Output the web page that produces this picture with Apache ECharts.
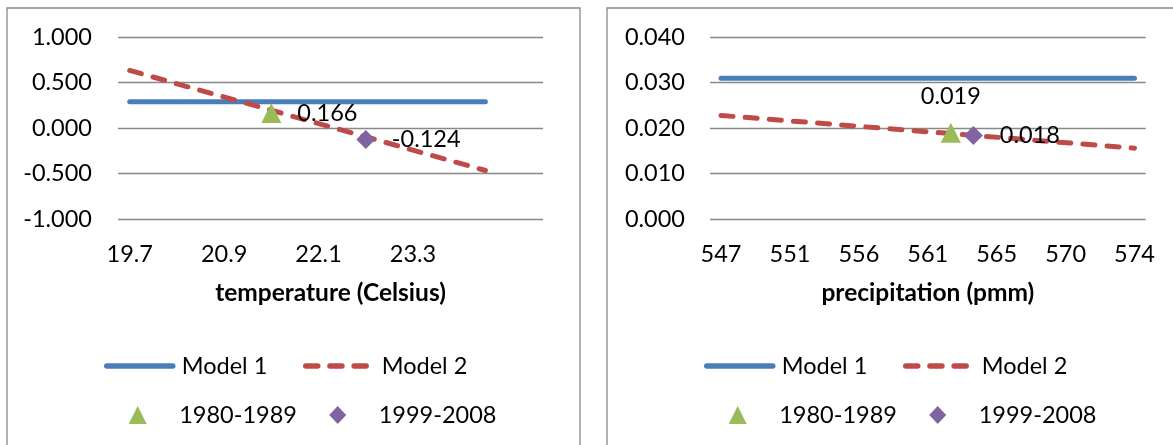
<!DOCTYPE html>
<html><head><meta charset="utf-8">
<script src="https://cdn.jsdelivr.net/npm/echarts@6/dist/echarts.min.js"></script>
<style>html,body{margin:0;padding:0;background:#fff}#c{width:1173px;height:445px}</style>
</head><body><div id="c"></div>
<script>
// ---- data ----
const seriesNames = ['Model 1', 'Model 2', '1980-1989', '1999-2008'];
const xTitles = ['temperature (Celsius)', 'precipitation (pmm)'];

const tempTicks = [19.7, 20.9, 22.1, 23.3];
const tempLineX = [19.7, 24.22];
const tempModel1 = [0.29, 0.29];
const tempModel2 = [0.635, -0.466];
const tempPointX = [21.5, 22.7];
const tempPointY = [0.166, -0.124];

const precipTicks = [546.9, 551.45, 556.0, 560.55, 565.1, 569.65, 574.2];
const precipLineX = [546.9, 574.2];
const precipModel1 = [0.031, 0.031];
const precipModel2 = [0.0228, 0.0156];
const precipPointX = [562.07, 563.56];
const precipPointY = [0.019, 0.0184];

// ---- style ----
const FONT = 'Lato';
const FS = 23.5;
const BLUE = '#4A7EBB', RED = '#BE4B48', GREEN = '#9BBB59', PURPLE = '#8064A2';
const GRID_COLOR = '#898989';
const DASH = [12, 12.2];

const panels = [
  { grid: {left: 118, top: 37.3, width: 425, height: 181.7}, xMin: 19.551, xMax: 24.952,
    ticks: tempTicks, dec: 1, yMin: -1, yMax: 1, yInt: 0.5, yMargin: 26,
    lineX: tempLineX, m1: tempModel1, m2: tempModel2, px: tempPointX, py: tempPointY,
    title: xTitles[0], lab: [{position: 'right', distance: 16}, {position: 'right', distance: 16.5}], dx: 0 },
  { grid: {left: 710, top: 37.3, width: 435.7, height: 181.7}, xMin: 546.17, xMax: 574.94,
    ticks: precipTicks, dec: 0, yMin: 0, yMax: 0.04, yInt: 0.01, yMargin: 25,
    lineX: precipLineX, m1: precipModel1, m2: precipModel2, px: precipPointX, py: precipPointY,
    title: xTitles[1], lab: [{position: 'top', distance: 14}, {position: 'right', distance: 17}], dx: 600 }
];

const legendSpec = [
  {left: 104, top: 354, w: 66, h: 6, pad: 4, line: true},
  {left: 303, top: 354, w: 63, h: 6, pad: 8, line: true},
  {left: 128.7, top: 403, w: 18, h: 18, pad: 27.5},
  {left: 329.2, top: 403, w: 17, h: 18, pad: 27.5}
];

const option = {
  animation: false,
  backgroundColor: '#fff',
  textStyle: {fontFamily: FONT},
  grid: [], xAxis: [], yAxis: [], series: [], legend: [],
  graphic: [
    {type: 'rect', silent: true, shape: {x: 7, y: 8, width: 573, height: 460}, style: {fill: null, stroke: GRID_COLOR, lineWidth: 1.3}},
    {type: 'rect', silent: true, shape: {x: 607, y: 8, width: 600, height: 460}, style: {fill: null, stroke: GRID_COLOR, lineWidth: 1.3}}
  ]
};

panels.forEach((p, i) => {
  option.grid.push(Object.assign({containLabel: false}, p.grid));
  option.xAxis.push({
    type: 'value', gridIndex: i, min: p.xMin, max: p.xMax,
    axisLine: {show: false}, axisTick: {show: false}, splitLine: {show: false},
    axisLabel: {customValues: p.ticks, formatter: v => v.toFixed(p.dec), margin: 23,
      color: '#000', fontSize: FS, fontFamily: FONT, lineHeight: 24},
    name: p.title, nameLocation: 'middle', nameGap: 74,
    nameTextStyle: {color: '#000', fontSize: 24.5, fontWeight: 'bold', fontFamily: FONT, verticalAlign: 'middle'}
  });
  option.yAxis.push({
    type: 'value', gridIndex: i, min: p.yMin, max: p.yMax, interval: p.yInt,
    axisLine: {show: false}, axisTick: {show: false},
    splitLine: {show: true, lineStyle: {color: GRID_COLOR, width: 1.3}},
    axisLabel: {formatter: v => v.toFixed(3), margin: p.yMargin, color: '#000', fontSize: FS, fontFamily: FONT}
  });
  option.series.push({
    name: seriesNames[0], type: 'line', xAxisIndex: i, yAxisIndex: i, symbol: 'none', silent: true,
    color: BLUE, lineStyle: {color: BLUE, width: 5, cap: 'round'},
    data: p.lineX.map((x, k) => [x, p.m1[k]])
  });
  option.series.push({
    name: seriesNames[1], type: 'line', xAxisIndex: i, yAxisIndex: i, symbol: 'none', silent: true,
    color: RED, lineStyle: {color: RED, width: 5, cap: 'round', type: DASH},
    data: p.lineX.map((x, k) => [x, p.m2[k]])
  });
  [[GREEN, 'triangle', 20], [PURPLE, 'diamond', 19]].forEach(([c, sym, sz], k) => {
    option.series.push({
      name: seriesNames[2 + k], type: 'scatter', xAxisIndex: i, yAxisIndex: i, silent: true,
      symbol: sym, symbolSize: sz, itemStyle: {color: c, opacity: 1}, color: c, z: 3,
      label: Object.assign({show: true, color: '#000', fontSize: FS, fontFamily: FONT,
        formatter: q => q.value[1].toFixed(3)}, p.lab[k]),
      data: [[p.px[k], p.py[k]]]
    });
  });
  legendSpec.forEach((l, k) => {
    const lg = {
      data: [seriesNames[k]], left: l.left + p.dx, top: l.top, padding: 0, orient: 'horizontal',
      itemWidth: l.w, itemHeight: l.h, selectedMode: false,
      textStyle: {color: '#000', fontSize: FS, fontFamily: FONT, lineHeight: 24, padding: [0, 0, 0, l.pad]}
    };
    if (l.line) {
      lg.lineStyle = {width: 5.5, cap: 'round'};
      lg.itemStyle = {opacity: 0};
    }
    option.legend.push(lg);
  });
});

const chart = echarts.init(document.getElementById('c'), null, {renderer: 'canvas'});
chart.setOption(option);
</script>
</body></html>
